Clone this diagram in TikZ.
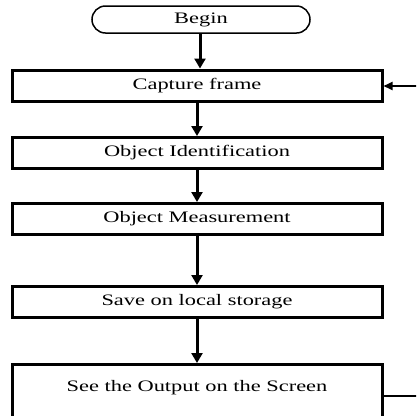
\documentclass[tikz,border=0pt]{standalone}
\usepackage{fontspec}
\setmainfont{Liberation Serif}[FakeStretch=1.4]
\usetikzlibrary{arrows.meta,shapes.misc}
\begin{document}
\begin{tikzpicture}[x=1pt,y=-1pt,
  every node/.style={font=\fontsize{16pt}{18pt}\selectfont},
  procbox/.style={draw=black,line width=3pt,minimum width=370pt,minimum height=31pt,inner sep=0pt},
  term/.style={draw=black,line width=1.5pt,rounded rectangle,minimum width=218pt,minimum height=27pt,inner sep=0pt},
  flow/.style={line width=3pt,-{Triangle[length=10pt,width=11pt]}},
  back/.style={line width=2pt,-{Triangle[length=9pt,width=8pt]}}]
\useasboundingbox (0,0) rectangle (416,416);
\clip (0,0) rectangle (416,416);
\node[term] (begin) at (201,19.5) {Begin};
\node[procbox] (cap) at (197,85.5) {Capture frame};
\node[procbox] (oid) at (197,153) {Object Identification};
\node[procbox] (meas) at (197,219) {Object Measurement};
\node[procbox] (save) at (197,302) {Save on local storage};
\node[procbox,anchor=north,minimum height=80pt] (out) at (197,363) {};
\node (outtext) at (197,388) {See the Output on the Screen};
\coordinate (c1) at (430,396);
\coordinate (c2) at (430,86);
\draw[flow] (begin.south -| 200,0) -- (cap.north -| 200,0);
\draw[flow] (cap) -- (oid);
\draw[flow] (oid) -- (meas);
\draw[flow] (meas) -- (save);
\draw[flow] (save) -- (out);
\draw[back] (out.east |- c1) -- (c1) -- (c2) -- (cap.east |- c2);
\end{tikzpicture}
\end{document}
